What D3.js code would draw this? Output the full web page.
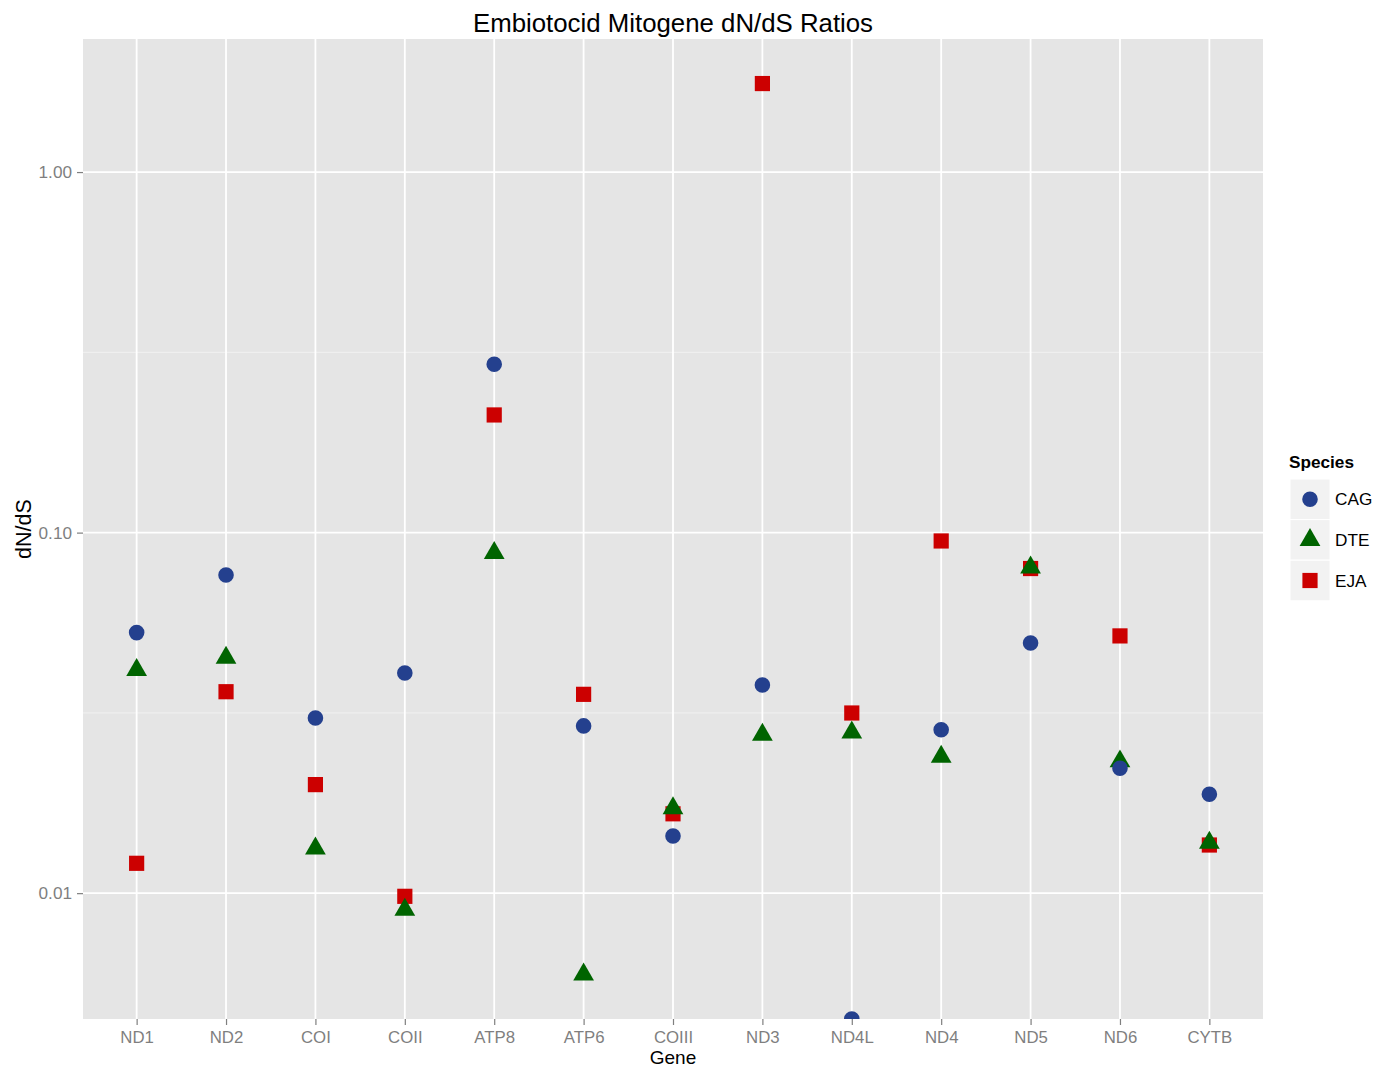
<!DOCTYPE html>
<html>
<head>
<meta charset="utf-8">
<script src="https://cdn.jsdelivr.net/npm/d3@7"></script>
<style>
  body { margin: 0; background: #fff; }
  text { font-family: "Liberation Sans", Arial, Helvetica, sans-serif; }
</style>
</head>
<body>
<div id="chart"></div>
<script>
// genes along the x axis
var genes = ["ND1", "ND2", "COI", "COII", "ATP8", "ATP6", "COIII", "ND3", "ND4L", "ND4", "ND5", "ND6", "CYTB"];

// dN/dS per species (0 = no nonsynonymous change, drawn at the panel edge)
var cag = [0.0528, 0.0763, 0.0306, 0.0408, 0.293, 0.0291, 0.0144, 0.0378, 0, 0.0284, 0.0494, 0.0222, 0.0188];
var dte = [0.0416, 0.0450, 0.0133, 0.0090, 0.0878, 0.00595, 0.0172, 0.0275, 0.0279, 0.0239, 0.0800, 0.0232, 0.0138];
var eja = [0.0121, 0.0362, 0.0200, 0.0098, 0.212, 0.0356, 0.0166, 1.76, 0.0316, 0.0948, 0.0795, 0.0517, 0.0136];

var species = ["CAG", "DTE", "EJA"];
var yTicks = [0.01, 0.1, 1];
var yTickLabels = ["0.01", "0.10", "1.00"];

var colors = { CAG: "#24408e", DTE: "#006400", EJA: "#cc0000" };

var width = 1383, height = 1068;
var panel = { left: 83, right: 1263, top: 39, bottom: 1019 };

// long table, drawn EJA first so DTE then CAG sit on top
var rows = [];
[["EJA", eja], ["DTE", dte], ["CAG", cag]].forEach(function(s) {
  s[1].forEach(function(v, i) { rows.push({ species: s[0], gene: genes[i], value: v }); });
});

var svg = d3.select("#chart").append("svg")
    .attr("width", width)
    .attr("height", height);

var x = d3.scalePoint()
    .domain(genes)
    .range([panel.left, panel.right])
    .padding(0.6);

// log range padded by 5% like ggplot
var positives = rows.filter(function(d) { return d.value > 0; }).map(function(d) { return Math.log10(d.value); });
var lo = d3.min(positives), hi = d3.max(positives), pad = (hi - lo) * 0.05;
var y = d3.scaleLog()
    .domain([Math.pow(10, lo - pad), Math.pow(10, hi + pad)])
    .range([panel.bottom, panel.top]);

function yPos(v) { return v > 0 ? y(v) : panel.bottom; }

// panel background
svg.append("rect")
    .attr("x", panel.left)
    .attr("y", panel.top)
    .attr("width", panel.right - panel.left)
    .attr("height", panel.bottom - panel.top)
    .attr("fill", "#e5e5e5");

svg.append("clipPath").attr("id", "clip")
  .append("rect")
    .attr("x", panel.left)
    .attr("y", panel.top)
    .attr("width", panel.right - panel.left)
    .attr("height", panel.bottom - panel.top);

var grid = svg.append("g").attr("clip-path", "url(#clip)");

// minor grid lines halfway between decades
var minor = [];
for (var i = 0; i < yTicks.length - 1; i++) minor.push(Math.sqrt(yTicks[i] * yTicks[i + 1]));
grid.selectAll(".minor")
    .data(minor)
  .enter().append("line")
    .attr("x1", panel.left).attr("x2", panel.right)
    .attr("y1", function(d) { return y(d); })
    .attr("y2", function(d) { return y(d); })
    .attr("stroke", "#f2f2f2")
    .attr("stroke-width", 0.9);

grid.selectAll(".hmajor")
    .data(yTicks)
  .enter().append("line")
    .attr("x1", panel.left).attr("x2", panel.right)
    .attr("y1", function(d) { return y(d); })
    .attr("y2", function(d) { return y(d); })
    .attr("stroke", "#fff")
    .attr("stroke-width", 1.8);

grid.selectAll(".vmajor")
    .data(genes)
  .enter().append("line")
    .attr("x1", function(d) { return x(d); })
    .attr("x2", function(d) { return x(d); })
    .attr("y1", panel.top).attr("y2", panel.bottom)
    .attr("stroke", "#fff")
    .attr("stroke-width", 1.8);

// marker shapes following R's pch 16 / 17 / 15
var xc = 7.7;
function shapePath(sp) {
  if (sp === "CAG") {
    var r = 7.8;
    return "M" + (-r) + ",0A" + r + "," + r + " 0 1,0 " + r + ",0A" + r + "," + r + " 0 1,0 " + (-r) + ",0Z";
  }
  if (sp === "DTE") {
    var rt = 1.5551 * xc, hw = 1.3468 * xc;
    return "M0," + (-rt) + "L" + hw + "," + (rt / 2) + "L" + (-hw) + "," + (rt / 2) + "Z";
  }
  var s = 7.6;
  return "M" + (-s) + "," + (-s) + "H" + s + "V" + s + "H" + (-s) + "Z";
}

grid.selectAll(".pt")
    .data(rows)
  .enter().append("path")
    .attr("class", "pt")
    .attr("transform", function(d) { return "translate(" + x(d.gene) + "," + yPos(d.value) + ")"; })
    .attr("d", function(d) { return shapePath(d.species); })
    .attr("fill", function(d) { return colors[d.species]; });

// axes
var xAxis = svg.append("g")
    .attr("transform", "translate(0," + panel.bottom + ")")
    .call(d3.axisBottom(x).tickSize(6).tickPadding(6));

var yAxis = svg.append("g")
    .attr("transform", "translate(" + panel.left + ",0)")
    .call(d3.axisLeft(y).tickValues(yTicks).tickSize(6).tickPadding(5)
      .tickFormat(function(d, i) { return yTickLabels[i]; }));

[xAxis, yAxis].forEach(function(a) {
  a.select(".domain").remove();
  a.selectAll(".tick line").attr("stroke", "#7f7f7f").attr("stroke-width", 1.2);
  a.selectAll(".tick text")
      .attr("fill", "#7f7f7f")
      .style("font-size", "17.2px")
      .style("font-family", "'Liberation Sans', Arial, sans-serif");
});
xAxis.selectAll(".tick text").style("font-size", "16.8px");

// titles
svg.append("text")
    .attr("x", (panel.left + panel.right) / 2)
    .attr("y", 32)
    .attr("text-anchor", "middle")
    .style("font-size", "25.8px")
    .text("Embiotocid Mitogene dN/dS Ratios");

svg.append("text")
    .attr("x", (panel.left + panel.right) / 2)
    .attr("y", 1063.8)
    .attr("text-anchor", "middle")
    .style("font-size", "19px")
    .text("Gene");

svg.append("text")
    .attr("transform", "translate(31," + (panel.top + panel.bottom) / 2 + ") rotate(-90)")
    .attr("text-anchor", "middle")
    .style("font-size", "21.5px")
    .text("dN/dS");

// legend
var legend = svg.append("g").attr("transform", "translate(1289,0)");

legend.append("text")
    .attr("x", 0)
    .attr("y", 468)
    .style("font-size", "17.2px")
    .style("font-weight", "bold")
    .text("Species");

var keyH = 40.6, keyTop = 479;
var key = legend.selectAll(".key")
    .data(species)
  .enter().append("g")
    .attr("class", "key")
    .attr("transform", function(d, i) { return "translate(0," + (keyTop + i * keyH) + ")"; });

key.append("rect")
    .attr("x", 1)
    .attr("width", 40)
    .attr("height", keyH)
    .attr("fill", "#f2f2f2")
    .attr("stroke", "#fff")
    .attr("stroke-width", 1);

key.append("path")
    .attr("transform", "translate(21," + keyH / 2 + ")")
    .attr("d", function(d) { return shapePath(d); })
    .attr("fill", function(d) { return colors[d]; });

key.append("text")
    .attr("x", 46)
    .attr("y", keyH / 2)
    .attr("dy", "0.35em")
    .style("font-size", "17.2px")
    .text(function(d) { return d; });
</script>
</body>
</html>
